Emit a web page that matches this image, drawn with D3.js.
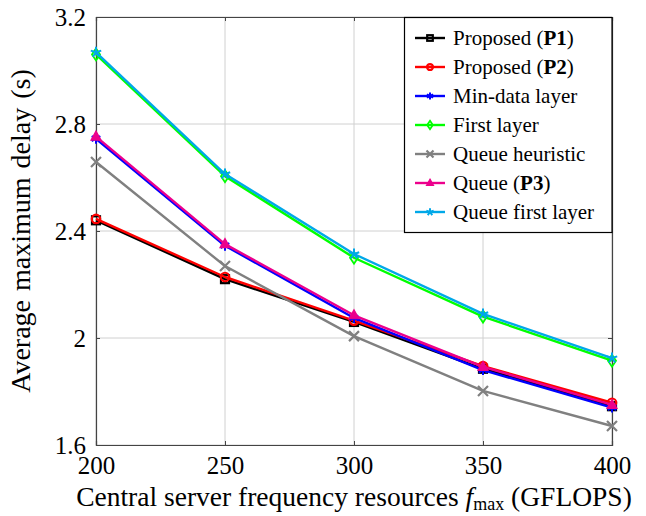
<!DOCTYPE html>
<html lang="en">
<head>
<meta charset="UTF-8">
<title>Average maximum delay vs central server frequency</title>
<script src="https://d3js.org/d3.v7.min.js"></script>
<style>
    body { margin: 0; background: #fff; }
    svg text { font-family: "Liberation Serif", "Times New Roman", Times, serif; fill: #000; }
    .grid line { stroke: #d0d0d0; stroke-width: 1; }
    .series { fill: none; stroke-width: 2.4; stroke-linejoin: round; }
</style>
</head>
<body>
<div id="chart"></div>
<script>
// x values (GFLOPS)
const freq = [200, 250, 300, 350, 400];
const yTicks = [1.6, 2.0, 2.4, 2.8, 3.2];
const yTickLabels = ["1.6", "2", "2.4", "2.8", "3.2"];

// series values
const proposedP1 = [2.44, 2.22, 2.06, 1.885, 1.745];
const proposedP2 = [2.445, 2.228, 2.065, 1.895, 1.758];
const minDataLayer = [2.745, 2.345, 2.075, 1.88, 1.74];
const firstLayer = [3.06, 2.605, 2.30, 2.08, 1.915];
const queueHeuristic = [2.658, 2.269, 2.007, 1.802, 1.671];
const queueP3 = [2.753, 2.351, 2.085, 1.892, 1.75];
const queueFirstLayer = [3.068, 2.613, 2.314, 2.09, 1.925];

const series = [
    {name: ["Proposed (", "P1", ")"], values: proposedP1, color: "#000000", mark: "square"},
    {name: ["Proposed (", "P2", ")"], values: proposedP2, color: "#ff0000", mark: "circle"},
    {name: ["Min-data layer"], values: minDataLayer, color: "#0000ff", mark: "asterisk"},
    {name: ["First layer"], values: firstLayer, color: "#00ff00", mark: "diamond"},
    {name: ["Queue heuristic"], values: queueHeuristic, color: "#808080", mark: "x"},
    {name: ["Queue (", "P3", ")"], values: queueP3, color: "#ec008c", mark: "triangle"},
    {name: ["Queue first layer"], values: queueFirstLayer, color: "#00a8e8", mark: "star"}
];

const W = 646, H = 516;
const pl = 96, pr = 612, pt = 17, pb = 445;
const serif = '"Liberation Serif", "Times New Roman", Times, serif';

const svg = d3.select("#chart").append("svg")
    .attr("width", W).attr("height", H);

const x = d3.scaleLinear().domain([200, 400]).range([pl, pr]);
const y = d3.scaleLinear().domain([1.6, 3.2]).range([pb, pt]);

// grid
const grid = svg.append("g").attr("class", "grid");
grid.selectAll(".gx").data(freq).join("line")
    .attr("x1", d => x(d)).attr("x2", d => x(d))
    .attr("y1", pt).attr("y2", pb);
grid.selectAll(".gy").data(yTicks).join("line")
    .attr("x1", pl).attr("x2", pr)
    .attr("y1", d => y(d)).attr("y2", d => y(d));

// axes (pgfplots style: ticks inside on all sides)
const axB = svg.append("g").attr("transform", `translate(0,${pb})`)
    .call(d3.axisBottom(x).tickValues(freq).tickSize(-4).tickPadding(10).tickFormat(d3.format("d")));
const axT = svg.append("g").attr("transform", `translate(0,${pt})`)
    .call(d3.axisTop(x).tickValues(freq).tickSize(-4).tickFormat(""));
const axL = svg.append("g").attr("transform", `translate(${pl},0)`)
    .call(d3.axisLeft(y).tickValues(yTicks).tickSize(-4).tickPadding(10)
        .tickFormat((d, i) => yTickLabels[i]));
const axR = svg.append("g").attr("transform", `translate(${pr},0)`)
    .call(d3.axisRight(y).tickValues(yTicks).tickSize(-4).tickFormat(""));

[axB, axT, axL, axR].forEach(a => {
    a.attr("font-family", serif);
    a.select(".domain").attr("stroke", "#444").attr("stroke-width", 1.2);
    a.selectAll(".tick line").attr("stroke", "#444");
    a.selectAll(".tick text").style("font-size", "25px").attr("fill", "#000");
});
axB.selectAll(".tick text").attr("dy", "0.75em");
axL.selectAll(".tick text").attr("dy", "0.35em");

// marker shapes
function drawMark(g, type, color, r) {
    if (type === "square") {
        g.append("rect").attr("x", -r * 0.8).attr("y", -r * 0.8)
            .attr("width", r * 1.6).attr("height", r * 1.6)
            .attr("fill", "none").attr("stroke", color).attr("stroke-width", 2.2);
    } else if (type === "circle") {
        g.append("circle").attr("r", r * 0.85)
            .attr("fill", "none").attr("stroke", color).attr("stroke-width", 2.2);
    } else if (type === "diamond") {
        g.append("path").attr("d", `M0,${-r * 1.2}L${r * 0.8},0L0,${r * 1.2}L${-r * 0.8},0Z`)
            .attr("fill", "none").attr("stroke", color).attr("stroke-width", 1.8);
    } else if (type === "triangle") {
        g.append("path").attr("d", `M0,${-r * 1.1}L${r},${r * 0.7}L${-r},${r * 0.7}Z`)
            .attr("fill", color).attr("stroke", color).attr("stroke-width", 1.2);
    } else if (type === "x") {
        g.append("path").attr("d", `M${-r},${-r}L${r},${r}M${-r},${r}L${r},${-r}`)
            .attr("stroke", color).attr("stroke-width", 2.2);
    } else if (type === "asterisk") {
        let d = "";
        for (let k = 0; k < 3; k++) {
            const a = Math.PI / 2 + k * Math.PI / 3;
            d += `M${-r * Math.cos(a)},${-r * Math.sin(a)}L${r * Math.cos(a)},${r * Math.sin(a)}`;
        }
        g.append("path").attr("d", d).attr("stroke", color).attr("stroke-width", 2);
    } else if (type === "star") {
        let d = "";
        for (let k = 0; k < 5; k++) {
            const a = -Math.PI / 2 + k * 2 * Math.PI / 5;
            d += `M0,0L${r * 1.1 * Math.cos(a)},${r * 1.1 * Math.sin(a)}`;
        }
        g.append("path").attr("d", d).attr("stroke", color).attr("stroke-width", 2);
    }
}

const line = d3.line().x((d, i) => x(freq[i])).y(d => y(d));

series.forEach(s => {
    svg.append("path").datum(s.values).attr("class", "series")
        .attr("stroke", s.color).attr("d", line);
    s.values.forEach((v, i) => {
        const g = svg.append("g").attr("transform", `translate(${x(freq[i])},${y(v)})`);
        drawMark(g, s.mark, s.color, 5);
    });
});

// legend
const lg = svg.append("g").attr("font-family", serif);
lg.append("rect").attr("x", 404.5).attr("y", pt + 0.5).attr("width", pr - 404.5).attr("height", 215)
    .attr("fill", "#fff").attr("stroke", "#000").attr("stroke-width", 1.2);
series.forEach((s, i) => {
    const cy = 38 + i * 29;
    lg.append("line").attr("x1", 415).attr("x2", 445).attr("y1", cy).attr("y2", cy)
        .attr("stroke", s.color).attr("stroke-width", 2.4);
    const g = lg.append("g").attr("transform", `translate(430,${cy})`);
    drawMark(g, s.mark, s.color, 3.5);
    const t = lg.append("text").attr("x", 453).attr("y", cy + 7).style("font-size", "21px");
    s.name.forEach((part, j) => {
        t.append("tspan").text(part).style("font-weight", j === 1 ? "bold" : "normal");
    });
});

// axis titles
svg.append("text")
    .attr("transform", `translate(30,${(pt + pb) / 2}) rotate(-90)`)
    .attr("text-anchor", "middle").style("font-size", "28px")
    .style("word-spacing", "2px")
    .text("Average maximum delay (s)");

const xl = svg.append("text").attr("x", (pl + pr) / 2).attr("y", 506)
    .attr("text-anchor", "middle").style("font-size", "27.5px");
xl.append("tspan").text("Central server frequency resources ");
xl.append("tspan").text("f").style("font-style", "italic");
xl.append("tspan").text("max").attr("dy", 4).style("font-size", "18px");
xl.append("tspan").text(" (GFLOPS)").attr("dy", -4);
</script>
</body>
</html>
